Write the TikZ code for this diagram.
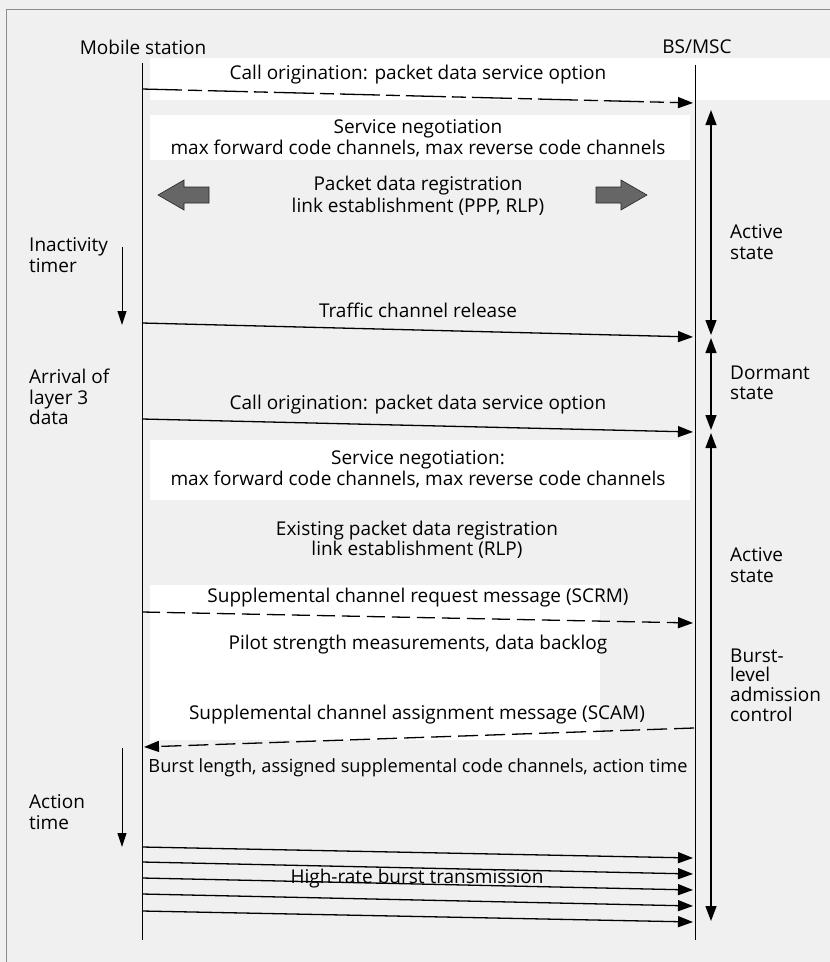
\documentclass[tikz,border=0pt]{standalone}
\usepackage{fontspec}
\setmainfont{Open Sans}
\usetikzlibrary{arrows.meta}
\begin{document}
\begin{tikzpicture}[x=1pt,y=-1pt,
  lbl/.style={font=\fontsize{19}{20.5}\selectfont, align=center, inner sep=0pt},
  side/.style={font=\fontsize{19}{20.5}\selectfont, align=left, anchor=west, inner sep=0pt},
  life/.style={line width=1pt},
  msg/.style={line width=1.3pt, -{Triangle[length=15pt,width=11pt]}, shorten >=1pt},
  dashmsg/.style={msg, dash pattern=on 40pt off 6pt on 14pt off 6pt},
  state/.style={line width=1.3pt, {Triangle[length=15pt,width=11pt]}-{Triangle[length=15pt,width=11pt]}},
  timer/.style={line width=1pt, -{Triangle[length=14pt,width=9pt]}},
  blockarrow/.style={fill=black!60, draw=black!85, line width=0.6pt},
  patch/.style={fill=white, draw=none},
  frameline/.style={draw=black!45, line width=0.8pt}]

% background and frame
\fill[black!6] (0,0) rectangle (830,962);
\useasboundingbox (0,0) rectangle (830,962);
\fill[patch] (150,58) rectangle (830,100);
\fill[patch] (150,115) rectangle (690,160);
\fill[patch] (150,440) rectangle (690,500);
\fill[patch] (150,585) rectangle (600,740);
\draw[frameline] (6,962) -- (6,9) -- (830,9);

% titles and lifelines
\node[lbl] (ms) at (143,47) {Mobile station};
\node[lbl] (bs) at (697,47) {BS/MSC};
\coordinate (msTop) at (142,63);
\coordinate (msBot) at (142,940);
\coordinate (bsTop) at (695,65);
\coordinate (bsBot) at (695,940);
\draw[life] (msTop) -- (msBot);
\draw[life] (bsTop) -- (bsBot);

% message coordinates
\coordinate (m1s) at (142,89);  \coordinate (m1e) at (694,103);
\coordinate (m2s) at (142,323); \coordinate (m2e) at (694,337);
\coordinate (m3s) at (142,419); \coordinate (m3e) at (694,432);
\coordinate (m4s) at (142,612); \coordinate (m4e) at (694,623);
\coordinate (m5s) at (694,728); \coordinate (m5e) at (143,747);
\coordinate (b1s) at (142,847); \coordinate (b1e) at (694,858);
\coordinate (b2s) at (142,862); \coordinate (b2e) at (694,874);
\coordinate (b3s) at (142,878); \coordinate (b3e) at (694,890);
\coordinate (b4s) at (142,894); \coordinate (b4e) at (694,906);
\coordinate (b5s) at (142,911); \coordinate (b5e) at (694,922);

\draw[dashmsg] (m1s) -- (m1e);
\draw[msg] (m2s) -- (m2e);
\draw[msg] (m3s) -- (m3e);
\draw[msg, dash pattern=on 18pt off 7pt] (m4s) -- (m4e);
\draw[msg, dash pattern=on 20pt off 7pt] (m5s) -- (m5e);
\draw[msg] (b1s) -- (b1e);
\draw[msg] (b2s) -- (b2e);
\draw[msg] (b3s) -- (b3e);
\draw[msg] (b4s) -- (b4e);
\draw[msg] (b5s) -- (b5e);

% message labels
\node[lbl] (t1) at (418,75) {Call origination: packet data service option};
\node[lbl] (t2) at (418,138) {Service negotiation\\max forward code channels, max reverse code channels};
\node[lbl, font=\fontsize{19}{22}\selectfont] (t3) at (418,196) {Packet data registration\\link establishment (PPP, RLP)};
\node[lbl] (t4) at (418,310) {Traffic channel release};
\node[lbl] (t5) at (418,405) {Call origination: packet data service option};
\node[lbl] (t6) at (418,469) {Service negotiation:\\max forward code channels, max reverse code channels};
\node[lbl] (t7) at (417,540) {Existing packet data registration\\link establishment (RLP)};
\node[lbl] (t8) at (418,598) {Supplemental channel request message (SCRM)};
\node[lbl] (t9) at (418,645) {Pilot strength measurements, data backlog};
\node[lbl] (t10) at (417,715) {Supplemental channel assignment message (SCAM)};
\node[lbl, font=\fontsize{18.2}{20.5}\selectfont] (t11) at (418,768) {Burst length, assigned supplemental code channels, action time};
\node[lbl] (t12) at (417,879) {High-rate burst transmission};

% block arrows
\fill[blockarrow] (158,195) -- (184,180) -- (184,187) -- (209,187) -- (209,203) -- (184,203) -- (184,210) -- cycle;
\fill[blockarrow] (647,195) -- (621,180) -- (621,187) -- (596,187) -- (596,203) -- (621,203) -- (621,210) -- cycle;

% state arrows
\coordinate (s1a) at (711,110); \coordinate (s1b) at (711,335);
\coordinate (s2a) at (711,338); \coordinate (s2b) at (711,430);
\coordinate (s3a) at (711,433); \coordinate (s3b) at (711,921);
\draw[state] (s1a) -- (s1b);
\draw[state] (s2a) -- (s2b);
\draw[state] (s3a) -- (s3b);
\node[side] (st1) at (730,242) {Active\\state};
\node[side] (st2) at (730,383) {Dormant\\state};
\node[side] (st3) at (730,565) {Active\\state};
\node[side, font=\fontsize{19}{19.7}\selectfont] (st4) at (730,685) {Burst-\\level\\admission\\control};

% timers on the left
\coordinate (i1a) at (122,247); \coordinate (i1b) at (122,325);
\coordinate (i2a) at (122,748); \coordinate (i2b) at (122,847);
\draw[timer] (i1a) -- (i1b);
\draw[timer] (i2a) -- (i2b);
\node[side] (e1) at (29,255) {Inactivity\\timer};
\node[side] (e2) at (29,397) {Arrival of\\layer 3\\data};
\node[side] (e3) at (29,812) {Action\\time};
\end{tikzpicture}
\end{document}
